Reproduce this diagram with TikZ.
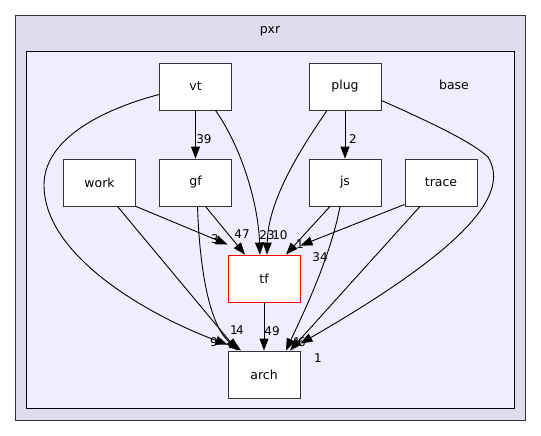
\documentclass[tikz,border=0pt]{standalone}
\usepackage{fontspec}
\setmainfont{DejaVu Sans}
\usetikzlibrary{arrows.meta}
\definecolor{outerfill}{HTML}{DDDDEE}
\definecolor{innerfill}{HTML}{EEEEFF}
\tikzset{
  dirbox/.style={draw=black!80, fill=white, line width=0.9pt, minimum width=72pt, minimum height=47pt, inner sep=0pt, font=\fontsize{12.5}{14}\selectfont},
  redbox/.style={dirbox, draw=red},
  dep/.style={draw=black, -{Triangle[length=12pt,width=9pt]}, line width=0.9pt},
  lbl/.style={font=\fontsize{12}{13}\selectfont, inner sep=0pt, text=black},
  clustertxt/.style={font=\fontsize{12.5}{14}\selectfont, inner sep=0pt}
}
\begin{document}
\begin{tikzpicture}[x=1pt,y=-1pt]
\useasboundingbox (0,0) rectangle (541,436);
\fill[white] (0,0) rectangle (541,436);
\draw[fill=outerfill, draw=black!80, line width=0.9pt] (15.5,15.5) rectangle (525.5,420.5);
\node[clustertxt] (pxrlbl) at (270,31) {pxr};
\draw[fill=innerfill, draw=black, line width=0.9pt] (26.5,51.5) rectangle (514.5,408.5);
\node[clustertxt] (baselbl) at (454,85) {base};

\node[dirbox] (vt) at (195.5,86.5) {vt};
\node[dirbox] (plug) at (345,86.5) {plug};
\node[dirbox] (work) at (99.5,182.5) {work};
\node[dirbox] (gf) at (195.5,182.5) {gf};
\node[dirbox] (js) at (345,182.5) {js};
\node[dirbox] (trace) at (441,182.5) {trace};
\node[redbox] (tf) at (264,278.5) {tf};
\node[dirbox] (arch) at (264,374.5) {arch};

% vt
\draw[dep] (vt.south) -- (gf.north) node[lbl, at={(204,139)}] {39};
\draw[dep] ([xshift=20pt]vt.south) .. controls (240,145) and (258,200) .. ([xshift=-4pt]tf.north) node[lbl, at={(267,235)}] {23};
\draw[dep] ([yshift=-8pt]vt.west) .. controls (100,110) and (44,140) .. (44,185) .. controls (44,260) and (160,320) .. ([yshift=6pt]arch.north west) node[lbl, at={(214,342)}] {9};
% plug
\draw[dep] (plug.south) -- (js.north) node[lbl, at={(353,139)}] {2};
\draw[dep] ([xshift=-18pt]plug.south) .. controls (300,150) and (268,200) .. ([xshift=3pt]tf.north) node[lbl, at={(280,235)}] {10};
\draw[dep] ([yshift=-14pt]plug.east) .. controls (430,122) and (472,142) .. (488,157) .. controls (508,190) and (480,240) .. ([yshift=7pt]arch.north east) node[lbl, at={(318,358)}] {1};
% work
\draw[dep] (work.south east) -- ([yshift=10pt]tf.north west) node[lbl, at={(215,239)}] {3};
\draw[dep] ([xshift=18pt]work.south) -- ([xshift=10pt]arch.north west) node[lbl, at={(240,330)}] {4};
% gf
\draw[dep] ([xshift=10pt]gf.south) -- ([xshift=-19pt]tf.north) node[lbl, at={(242,234)}] {47};
\draw[dep] ([xshift=2pt]gf.south) .. controls (200,280) and (212,330) .. ([xshift=-23pt]arch.north) node[lbl, at={(234,330)}] {1};
% js
\draw[dep] ([xshift=-15pt]js.south) -- ([xshift=22pt]tf.north) node[lbl, at={(300,244)}] {1};
\draw[dep] ([xshift=-5pt]js.south) .. controls (330,260) and (300,320) .. ([xshift=22pt]arch.north) node[lbl, at={(302,342)}] {6};
% trace
\draw[dep] ([yshift=2pt]trace.south west) -- ([yshift=9pt]tf.north east) node[lbl, at={(320,257)}] {34};
\draw[dep] ([xshift=-21pt]trace.south) -- ([xshift=26pt]arch.north) node[lbl, at={(297,342)}] {1};
% tf
\draw[dep] (tf.south) -- (arch.north) node[lbl, at={(272,331)}] {49};
\end{tikzpicture}
\end{document}
